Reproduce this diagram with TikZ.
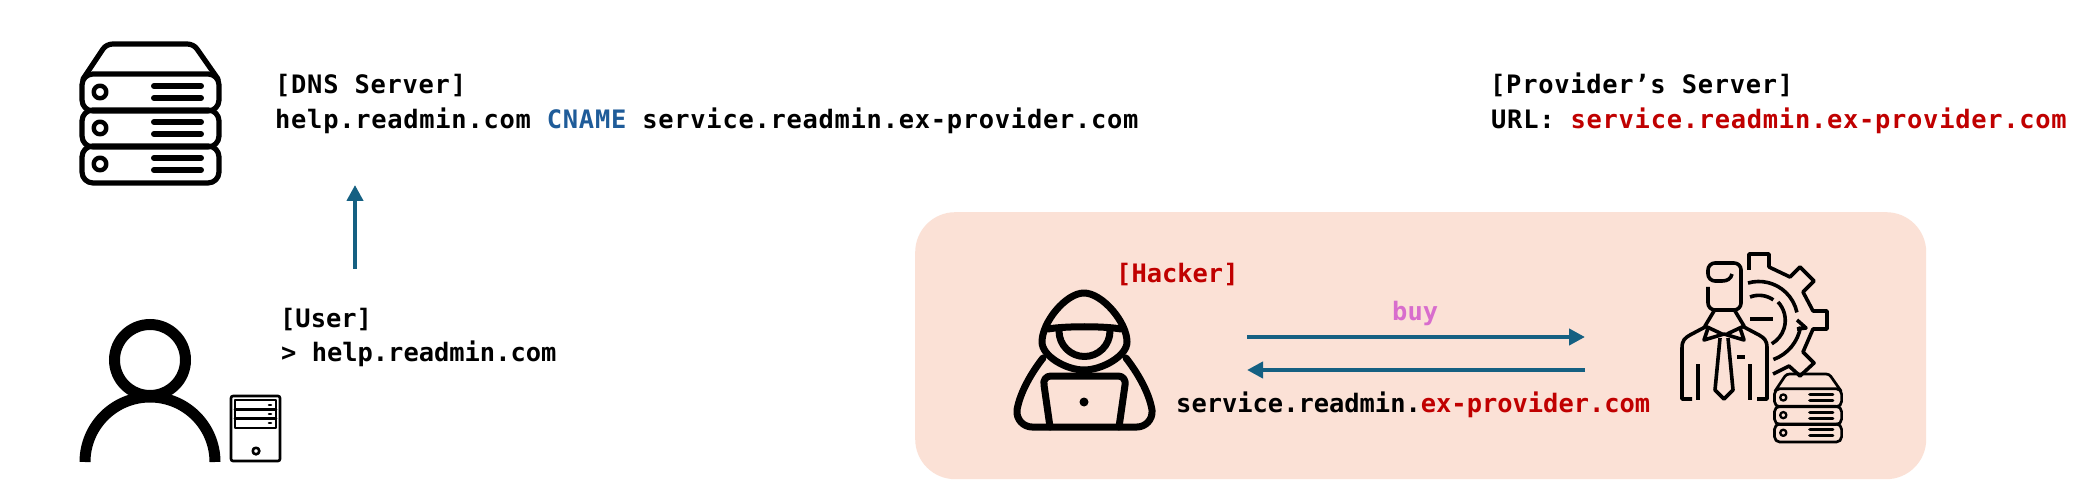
\documentclass[tikz,border=0pt]{standalone}
\usepackage{fontspec}
\setmonofont{DejaVu Sans Mono}
\newfontfamily\widemono[LetterSpace=2.9]{DejaVu Sans Mono}
\usetikzlibrary{arrows.meta}
\definecolor{arrowc}{HTML}{156082}
\definecolor{redc}{HTML}{C00000}
\definecolor{bluec}{HTML}{1F5C99}
\definecolor{pinkc}{HTML}{D86DCD}
\definecolor{boxc}{HTML}{FBE1D6}
\tikzset{
  x=1pt,y=-1pt,
  label text/.style={inner sep=0pt,anchor=base west,font=\fontsize{25.4}{30}\selectfont\ttfamily\bfseries,text=black},
  wide text/.style={inner sep=0pt,anchor=base west,font=\fontsize{25.4}{30}\selectfont\widemono\bfseries,text=black},
  flow/.style={draw=arrowc,line width=4pt,-{Triangle[length=16pt,width=16pt]}},
  icon/.style={draw=black,line cap=round,line join=round},
}
\newcommand{\servericon}[4]{%
  \begin{scope}[shift={(#1,#2)},x=#3pt,y=-#3pt,icon,line width=#4pt]
    \draw (4,37) -- (24,7) .. controls (26,4) and (30,2) .. (34,2) -- (108,2) .. controls (112,2) and (116,4) .. (118,7) -- (139,37);
    \foreach \r in {0,1,2}{
      \begin{scope}[yshift=-\r*36*#3 pt]
        \draw[rounded corners=#3*11pt] (3,32) rectangle (140,69);
        \draw[line width=0.85*#4pt] (21,50) circle (6.3);
        \draw[line width=1.15*#4pt] (75,44) -- (122,44);
        \draw[line width=1.15*#4pt] (75,56) -- (122,56);
      \end{scope}
    }
  \end{scope}}
\begin{document}
\begin{tikzpicture}
\useasboundingbox (0,0) rectangle (2092,502);
\fill[white] (0,0) rectangle (2092,502);
\node[draw=none,fill=boxc,rounded corners=40pt,minimum width=1011pt,minimum height=267pt,inner sep=0pt,anchor=north west] (box) at (915,212) {};
% DNS icon
\servericon{79}{42}{1}{5.2}
% user
\draw[draw=black,line width=11pt] (150,360) circle (35.5);
\draw[draw=black,line width=11pt] (85,462) arc[start angle=180,end angle=360,radius=65];
% PC
\begin{scope}[icon,line width=2.6pt]
\draw[rounded corners=2pt] (231,396) rectangle (280,461);
\draw (235,400) rectangle (276,428);
\draw (235,409.5) -- (276,409.5);
\draw (235,418.5) -- (276,418.5);
\draw (269,405) -- (271,405);
\draw (269,414) -- (271,414);
\draw (269,423) -- (271,423);
\draw (256,451) circle (3.3);
\end{scope}
% hacker
\begin{scope}[icon,line width=7pt]
\draw (1084,293) .. controls (1066,293) and (1042,322) .. (1042,342) .. controls (1042,356) and (1066,370) .. (1084,370) .. controls (1102,370) and (1127,356) .. (1127,342) .. controls (1127,322) and (1102,293) .. (1084,293) -- cycle;
\draw (1048,329) .. controls (1065,326) and (1104,326) .. (1121,329);
\draw (1059,331) arc[start angle=180,end angle=0,radius=25.5];
\draw (1043,358) .. controls (1032,372) and (1020,392) .. (1017,410) .. controls (1016,420) and (1024,427) .. (1032,427) -- (1137,427) .. controls (1145,427) and (1153,420) .. (1152,410) .. controls (1149,392) and (1137,372) .. (1126,358);
\draw (1050,427) -- (1044,385) .. controls (1043,380) and (1046,376) .. (1051,376) -- (1118,376) .. controls (1123,376) and (1126,380) .. (1125,385) -- (1119,427);
\end{scope}
\fill[black] (1084,402) circle (4.5);
% engineer
\begin{scope}[icon,line width=3.6pt,line cap=butt]
\draw[rounded corners=7pt] (1708,287) -- (1708,310) -- (1741,310) -- (1741,263) -- (1708,263) -- (1708,281) -- (1722,281);
\draw (1722,281) .. controls (1727,281) and (1731,279) .. (1732,274);
\draw (1714,311) -- (1705,326) -- (1722,334);
\draw (1735,311) -- (1744,326) -- (1727,334);
\draw (1708,328) -- (1704,340) -- (1724,334) -- (1744,340) -- (1740,328);
\draw (1707,326) -- (1690,335) .. controls (1685,338) and (1682,340) .. (1682,348) -- (1682,399) -- (1692,399);
\draw (1742,326) -- (1759,335) .. controls (1764,338) and (1767,340) .. (1767,348) -- (1767,399) -- (1757,399);
\draw (1698,364) -- (1698,400);
\draw (1750,364) -- (1750,400);
\draw (1737,357) -- (1745,357);
\draw (1720,338) -- (1715,390) -- (1724,399) -- (1733,390) -- (1728,338);
% gear
\draw (1749,270) -- (1749,254) -- (1769,254) -- (1769,267) -- (1790,277) -- (1800,267) -- (1814,281) -- (1803,292) -- (1813,311) -- (1827,311) -- (1827,329) -- (1813,329) -- (1803,352) -- (1814,363) -- (1800,376) -- (1789,366) -- (1773,374);
\draw (1748,283) arc[start angle=-106,end angle=-12,radius=39];
\draw (1773.4,359.5) arc[start angle=70,end angle=9,radius=42];
\draw (1797,320) -- (1806,328) -- (1797,329);
\draw (1750,297) arc[start angle=-111,end angle=-55,radius=25];
\draw (1778,302) arc[start angle=-43,end angle=60,radius=27];
\draw (1750,319) -- (1773,319);
\end{scope}
\servericon{1773}{373}{0.49}{2.7}
% texts
\node[wide text] (dns1) at (275,94) {[DNS Server]};
\node[wide text] (dns2) at (275,129) {help.readmin.com \textcolor{bluec}{CNAME} service.readmin.ex-provider.com};
\node[wide text] (prov1) at (1490,94) {[Provider’s Server]};
\node[wide text] (prov2) at (1491,129) {URL: \textcolor{redc}{service.readmin.ex-provider.com}};
\node[label text] (user1) at (280,327) {[User]};
\node[label text] (user2) at (281,361) {> help.readmin.com};
\node[label text,text=redc] (hack) at (1116,283) {[Hacker]};
\node[label text,text=pinkc] (buy) at (1392,320) {buy};
\node[label text] (svc) at (1176,412) {service.readmin.\textcolor{redc}{ex-provider.com}};
% arrows
\coordinate (ua) at (355,269);
\coordinate (ub) at (355,185);
\coordinate (ba) at (1247,337);
\coordinate (bb) at (1585,337);
\coordinate (ra) at (1585,370);
\coordinate (rb) at (1247,370);
\draw[flow] (ua) -- (ub);
\draw[flow] (ba) -- (bb);
\draw[flow] (ra) -- (rb);
\end{tikzpicture}
\end{document}
